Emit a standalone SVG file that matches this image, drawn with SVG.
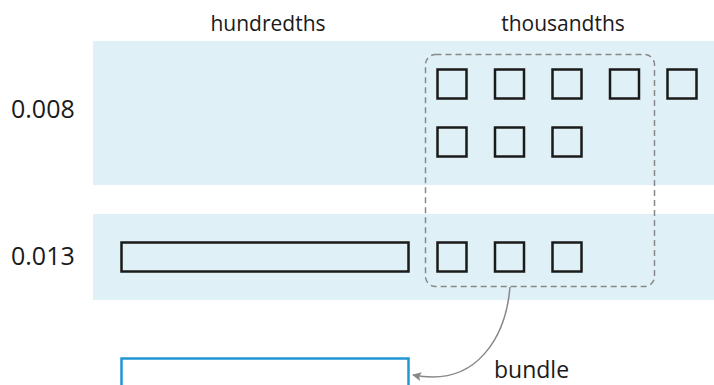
<svg xmlns="http://www.w3.org/2000/svg" width="714" height="385" viewBox="0 0 714 385">
<style>
.lbl{font-family:"Open Sans","Noto Sans",sans-serif;fill:#1a1a1a}
.hdr{font-size:21px}
.num{font-size:25px}
.band{fill:#dff1f7}
.sq{fill:none;stroke:#1a1a1a;stroke-width:2.5}
.bar{fill:#dff1f7;stroke:#1a1a1a;stroke-width:2.5}
.bundle{fill:none;stroke:#888;stroke-width:1.5;stroke-dasharray:6 4}
.conn{fill:none;stroke:#888;stroke-width:1.5}
</style>
<defs>
<marker id="ah" viewBox="0 0 10 10" refX="9" refY="5" markerWidth="9" markerHeight="9" markerUnits="userSpaceOnUse" orient="auto">
<path d="M0,0 L10,5 L0,10 L2,5 z" fill="#888"/>
</marker>
</defs>
<rect id="band1" class="band" x="93" y="41" width="621" height="144"/>
<rect id="band2" class="band" x="93" y="214" width="621" height="86"/>
<text class="lbl hdr" x="268" y="31" text-anchor="middle">hundredths</text>
<text class="lbl hdr" x="563" y="31" text-anchor="middle">thousandths</text>
<text class="lbl num" x="11" y="118">0.008</text>
<text class="lbl num" x="11" y="265">0.013</text>
<g id="row1">
<rect class="sq" x="437.5" y="69.5" width="29" height="29"/>
<rect class="sq" x="495" y="69.5" width="29" height="29"/>
<rect class="sq" x="552.5" y="69.5" width="29" height="29"/>
<rect class="sq" x="610" y="69.5" width="29" height="29"/>
<rect class="sq" x="667.5" y="69.5" width="29" height="29"/>
<rect class="sq" x="437.5" y="127.5" width="29" height="29"/>
<rect class="sq" x="495" y="127.5" width="29" height="29"/>
<rect class="sq" x="552.5" y="127.5" width="29" height="29"/>
</g>
<g id="row2">
<rect class="bar" x="121.5" y="242.5" width="287" height="29"/>
<rect class="sq" x="437.5" y="242.5" width="29" height="29"/>
<rect class="sq" x="495" y="242.5" width="29" height="29"/>
<rect class="sq" x="552.5" y="242.5" width="29" height="29"/>
</g>
<g id="bundle-box">
<rect class="bundle" x="425.5" y="54.5" width="229" height="232" rx="10"/>
</g>
<g id="result">
<rect x="121.5" y="358.5" width="287" height="40" fill="#fff" stroke="#2196d3" stroke-width="2.5"/>
</g>
<g id="connectors">
<path class="conn" d="M510,287 C506,335 478,388 413,375" marker-end="url(#ah)"/>
</g>
<text class="lbl" style="font-size:23px" x="494" y="378">bundle</text>
</svg>
